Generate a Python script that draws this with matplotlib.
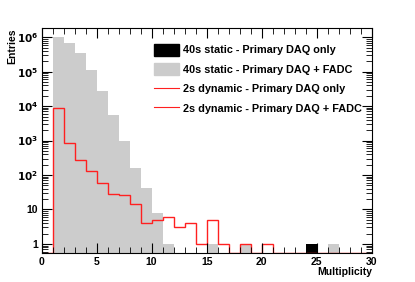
import numpy as np
import matplotlib.pyplot as plt
from matplotlib.ticker import FixedLocator, MultipleLocator, FuncFormatter, LogLocator
from matplotlib.patches import Patch
from matplotlib.lines import Line2D

plt.rcParams['font.family'] = ['Liberation Sans', 'DejaVu Sans']

edges = np.arange(0, 31)

# 40s static - Primary DAQ only (only visible where it is not hidden by the grey one)
static_daq = np.zeros(30)
static_daq[24] = 1

# 40s static - Primary DAQ + FADC
static_fadc = np.array([0, 1.0e6, 7.0e5, 3.5e5, 1.1e5, 2.7e4, 5.6e3, 1.0e3, 164, 43,
                        8, 1, 0, 0, 0, 1, 0, 0, 1, 0,
                        0, 0, 0, 0, 0, 0, 1, 0, 0, 0])

# 2s dynamic - Primary DAQ only / + FADC (same histogram)
dyn_fadc = np.array([0, 8.7e3, 880, 280, 131, 58, 29, 27, 14, 4,
                     5, 6, 3, 4, 1, 5, 1, 0, 1, 0,
                     1, 0, 0, 0, 0, 0, 0, 0, 0, 0])

ymin, ymax = 0.537, 1.83e6

fig = plt.figure(figsize=(4.15, 2.82), dpi=100)
ax = fig.add_axes([0.1, 0.102, 0.796, 0.798])
ax.set_yscale('log')

ax.stairs(np.maximum(static_fadc, ymin), edges, baseline=ymin, fill=True, color='#cccccc')
ax.stairs(np.maximum(static_daq, ymin), edges, baseline=ymin, fill=True, color='black')
ax.stairs(np.maximum(dyn_fadc, ymin), edges, baseline=ymin, color='#ff2020', lw=1.0)

ax.set_xlim(0, 30)
ax.set_ylim(ymin, ymax)

ax.xaxis.set_major_locator(MultipleLocator(5))
ax.xaxis.set_minor_locator(MultipleLocator(1))
ax.yaxis.set_major_locator(FixedLocator([10.0 ** k for k in range(7)]))
ax.yaxis.set_minor_locator(LogLocator(base=10, subs=np.arange(2, 10)))


def fmt(v, pos):
    k = int(round(np.log10(v)))
    if k == 0:
        return '1'
    if k == 1:
        return '10'
    return r'$\mathbf{10^{%d}}$' % k


ax.yaxis.set_major_formatter(FuncFormatter(fmt))
ax.yaxis.set_minor_formatter(FuncFormatter(lambda v, p: ''))

ax.tick_params(which='both', direction='in', top=True, right=True, labelsize=7.5)
ax.tick_params(axis='y', pad=2.5)
ax.tick_params(axis='x', pad=3)
ax.tick_params(which='major', length=7, width=0.8)
ax.tick_params(which='minor', length=4, width=0.6)
for lbl in ax.get_xticklabels() + ax.get_yticklabels():
    lbl.set_fontweight('bold')

ax.set_xlabel('Multiplicity', fontsize=7.5, fontweight='bold', loc='right', labelpad=0)
ax.set_ylabel('Entries', fontsize=7.5, fontweight='bold', loc='top')
ax.yaxis.set_label_coords(-0.072, 1.0)

handles = [Patch(facecolor='black', edgecolor='black'),
           Patch(facecolor='#cccccc', edgecolor='#cccccc'),
           Line2D([], [], color='#ff2020', lw=0.8),
           Line2D([], [], color='#ff2020', lw=0.8)]
labels = ['40s static - Primary DAQ only',
          '40s static - Primary DAQ + FADC',
          '2s dynamic - Primary DAQ only',
          '2s dynamic - Primary DAQ + FADC']
ax.legend(handles, labels, loc='upper left', frameon=False,
          prop={'size': 7.8, 'weight': 'bold'}, handlelength=2.3, handleheight=1.3,
          handletextpad=0.37, labelspacing=0.7, borderpad=0, borderaxespad=0,
          bbox_to_anchor=(0.34, 0.93))

fig.savefig('out.png', dpi=100)
